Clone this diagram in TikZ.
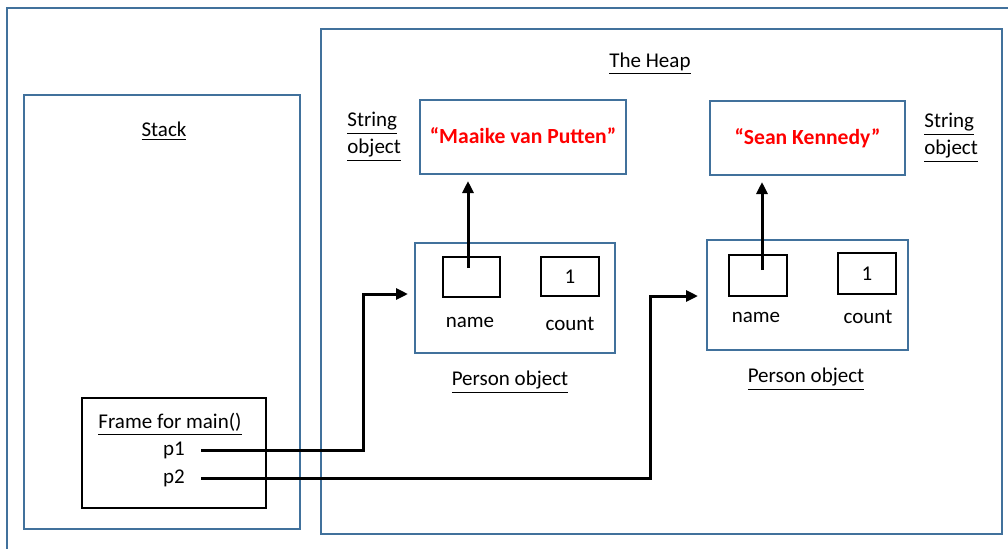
\documentclass[tikz,border=0pt]{standalone}
\usepackage{fontspec}
\setmainfont{Carlito}
\usetikzlibrary{calc,arrows.meta}
\definecolor{boxblue}{RGB}{65,113,156}
\definecolor{strred}{RGB}{255,0,0}
\begin{document}
\begin{tikzpicture}[x=0.5pt,y=-0.5pt,
  font=\fontsize{10.5}{13.5}\selectfont,
  bluebox/.style={draw=boxblue,line width=1pt,inner sep=0pt},
  blackbox/.style={draw=black,line width=0.9pt,inner sep=0pt},
  lbl/.style={inner sep=0pt},
  strtext/.style={text=strred,font=\fontsize{10.8}{13.5}\selectfont\bfseries},
  ptr/.style={line width=1.5pt,-{Triangle[length=6pt,width=5.5pt]}}]
\useasboundingbox (0,0) rectangle (1008,548);
\clip (0,0) rectangle (1008,548);
\fill[white] (0,0) rectangle (1008,548);
\draw[boxblue,line width=1pt] (7,8) rectangle (1030,570);
% stack
\node[bluebox,minimum width=138pt,minimum height=217pt] (stack) at (162,312) {};
\node[lbl] (stacklbl) at (164,131) {\underline{Stack}};
% heap
\node[bluebox,minimum width=340.5pt,minimum height=252.5pt] (heap) at (661.5,281.5) {};
\node[lbl] (heaplbl) at (650,64) {\underline{The Heap}};
% strings
\node[bluebox,minimum width=103pt,minimum height=37pt,strtext] (str1) at (523,137) {\raisebox{1pt}{“Maaike van Putten”}};
\node[bluebox,minimum width=97.5pt,minimum height=37pt,strtext] (str2) at (807.5,138) {\raisebox{1pt}{“Sean Kennedy”}};
\node[lbl,anchor=west,align=left] (strlbl1) at (347,137) {\underline{String}\\\underline{object}};
\node[lbl,anchor=west,align=left] (strlbl2) at (924,138) {\underline{String}\\\underline{object}};
% persons
\node[bluebox,minimum width=100pt,minimum height=55pt] (person1) at (515,298) {};
\node[bluebox,minimum width=100.5pt,minimum height=55pt] (person2) at (807.5,295) {};
\node[blackbox,minimum width=28.5pt,minimum height=20pt] (name1) at (471.5,277) {};
\node[blackbox,minimum width=29pt,minimum height=19.5pt] (count1) at (570,276.5) {1};
\node[blackbox,minimum width=29pt,minimum height=20.5pt] (name2) at (758,275.5) {};
\node[blackbox,minimum width=29pt,minimum height=20.5pt] (count2) at (867,273.5) {1};
\node[lbl] (namelbl1) at (470,322) {name};
\node[lbl] (countlbl1) at (570,324) {count};
\node[lbl] (namelbl2) at (756,317) {name};
\node[lbl] (countlbl2) at (868,317) {count};
\node[lbl] (personlbl1) at (510,382) {\underline{Person object}};
\node[lbl] (personlbl2) at (806,379) {\underline{Person object}};
% frame
\node[blackbox,minimum width=92pt,minimum height=55pt] (frame) at (174,453) {};
\node[lbl] (framelbl) at (170,424) {\underline{Frame for main()}};
\node[lbl] (p1) at (174,450) {p1};
\node[lbl] (p2) at (174,478) {p2};
% pointers
\draw[ptr,shorten >=3pt] ([xshift=-1.75pt,yshift=4.5pt]name1.center) -- ([xshift=-1.75pt]name1.center |- str1.south);
\draw[ptr,shorten >=3pt] ([xshift=2pt,yshift=2.75pt]name2.center) -- ([xshift=2pt]name2.center |- str2.south);
\coordinate (j1) at (363,294);
\coordinate (j2) at (650,296);
\draw[ptr,shorten >=3pt] ([xshift=8pt]p1.east) -| (j1) -- (j1 -| person1.west);
\draw[ptr,shorten >=4pt] ([xshift=8pt]p2.east) -| (j2) -- (j2 -| person2.west);
\end{tikzpicture}
\end{document}
